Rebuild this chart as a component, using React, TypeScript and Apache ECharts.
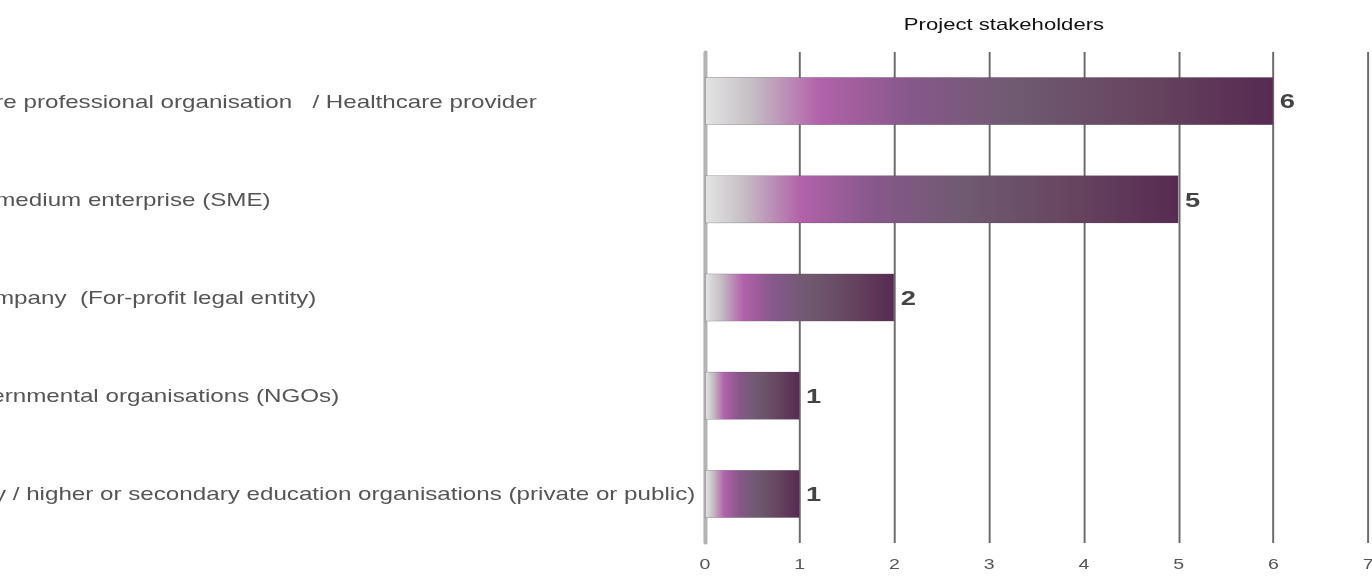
import React, { useEffect, useRef } from "react";
import * as echarts from "echarts";

const categories = [
  "Healthcare professional organisation   / Healthcare provider",
  "Small or medium enterprise (SME)",
  "Large company  (For-profit legal entity)",
  "Non-governmental organisations (NGOs)",
  "University / higher or secondary education organisations (private or public)",
];
const values = [6, 5, 2, 1, 1];
const xTicks = [0, 1, 2, 3, 4, 5, 6, 7];

const INNER_W = 1055;
const STRETCH = 1372 / INNER_W;

export default function App() {
  const ref = useRef<HTMLDivElement>(null);
  useEffect(() => {
    const chart = echarts.init(ref.current!, undefined, { renderer: "svg" });
    const barGradient = new echarts.graphic.LinearGradient(0, 0, 1, 0, [
      { offset: 0, color: "#e4e4e4" },
      { offset: 0.08, color: "#c6bfc5" },
      { offset: 0.2, color: "#b262aa" },
      { offset: 0.36, color: "#86588a" },
      { offset: 0.55, color: "#6f5a70" },
      { offset: 0.78, color: "#66445f" },
      { offset: 1, color: "#572a52" },
    ]);
    const font = "Liberation Sans, Arial, sans-serif";
    chart.setOption({
      animation: false,
      title: {
        text: "Project stakeholders",
        left: 767,
        textAlign: "center",
        top: 10,
        textStyle: {
          fontFamily: font,
          fontSize: 17,
          fontWeight: "normal",
          color: "#111",
        },
      },
      grid: {
        left: 542,
        right: 3,
        top: 52,
        bottom: 33,
        containLabel: false,
        outerBoundsMode: "none",
      },
      xAxis: {
        type: "value",
        min: xTicks[0],
        max: xTicks[xTicks.length - 1],
        interval: 1,
        axisLine: { show: false },
        axisTick: { show: false },
        axisLabel: {
          color: "#555",
          fontSize: 15,
          margin: 13,
          fontFamily: font,
        },
        splitLine: { show: true, lineStyle: { color: "#6a6a6a", width: 1.5 } },
      },
      yAxis: {
        type: "category",
        data: categories,
        inverse: true,
        axisLine: { show: true, lineStyle: { color: "#b3b3b3", width: 3 } },
        axisTick: { show: false },
        axisLabel: {
          color: "#555",
          fontSize: 18.6,
          margin: 619,
          align: "left",
          fontFamily: font,
        },
      },
      series: [
        {
          type: "bar",
          data: values,
          barWidth: 48,
          itemStyle: {
            color: barGradient,
            borderColor: "rgba(90,70,90,0.35)",
            borderWidth: 0.8,
          },
          label: {
            show: true,
            position: "right",
            distance: 5,
            color: "#444",
            fontSize: 21,
            fontWeight: "bold",
            fontFamily: font,
          },
          z: 3,
        },
      ],
    });
    return () => chart.dispose();
  }, []);
  return (
    <div
      style={{
        position: "fixed",
        left: 0,
        top: 0,
        width: 1372,
        height: 576,
        overflow: "hidden",
      }}
    >
      <div
        ref={ref}
        style={{
          width: INNER_W,
          height: 576,
          transform: `scaleX(${STRETCH})`,
          transformOrigin: "0 0",
        }}
      />
    </div>
  );
}
